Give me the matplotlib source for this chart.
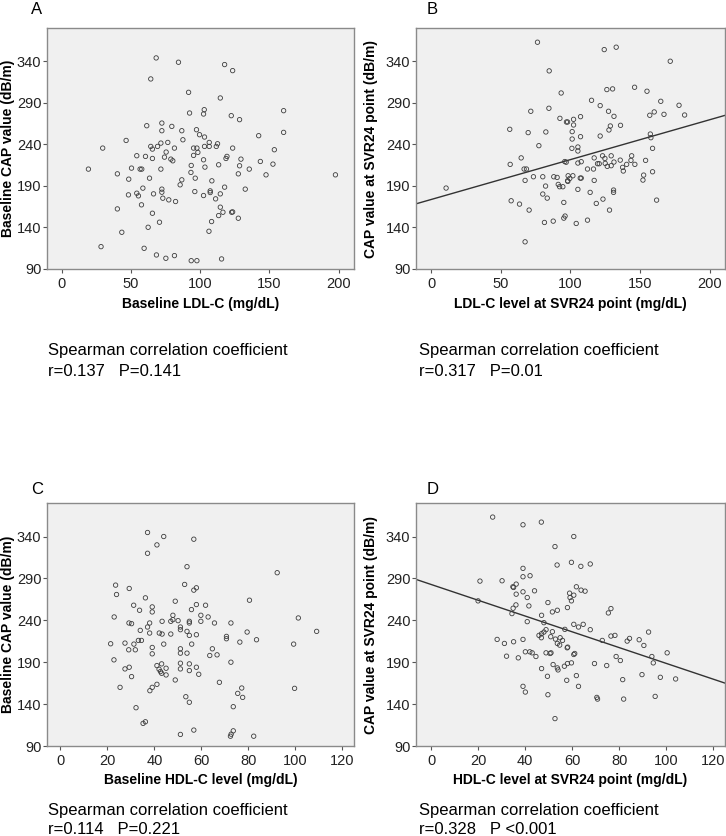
import numpy as np
import matplotlib.pyplot as plt

plt.rcParams['font.family'] = ['Liberation Sans', 'DejaVu Sans']

# (x, y) points, one list per panel
a_pts = [(68.2, 344), (84.3, 338.8), (64.3, 318.7), (117.6, 336), (123.4, 328.7), (91.6, 302.6),
         (114.5, 295.8), (102.9, 281.7), (102.4, 276.5), (92.3, 277.7), (122.4, 274.5), (128.4, 269.7),
         (160.2, 280.5), (160.2, 254.4), (142.2, 250.4), (72.3, 265.6), (61.4, 262.4), (79.5, 261.6),
         (72.3, 256.4), (86.7, 256.4), (97.3, 257.6), (99.5, 251.6), (103.1, 248.8), (46.5, 244.7),
         (87.5, 245.5), (76.6, 242.3), (71.6, 241.5), (106.5, 242.3), (112.5, 240.7), (29.6, 235.5),
         (64.3, 237.5), (69.2, 237.5), (65.5, 234.3), (81.4, 235.5), (95.2, 235.5), (97.6, 235.5),
         (103.1, 237.5), (106.5, 237.5), (111.6, 237.5), (123.4, 235.5), (153.5, 233.5), (75.4, 230.7),
         (98.3, 230.3), (54.2, 226.3), (60.5, 225.5), (95.2, 226.7), (74.2, 224.6), (65.5, 223),
         (78.8, 222.2), (80.2, 220.2), (102.4, 221.4), (119.3, 225.5), (118.6, 223), (129.4, 222.2),
         (143.4, 219.4), (50.4, 211.4), (56.6, 210.2), (57.8, 210.2), (19.3, 210.2), (71.6, 210.2),
         (93.5, 214.6), (103.4, 212.6), (113.3, 215.4), (128.4, 214.2), (135.4, 210.2), (152.5, 216.2),
         (40.2, 204.5), (93.3, 206.2), (127.5, 204.5), (147.5, 203.3), (197.6, 203.3), (63.4, 199.3),
         (48.4, 198.1), (86.7, 197.3), (96.4, 199.3), (108.4, 196.1), (85.5, 191.3), (58.6, 187.3),
         (72.3, 186.1), (117.6, 188.5), (132.5, 186.1), (72.3, 182.4), (96.1, 183.2), (107.2, 184),
         (107.2, 182), (54.2, 181.2), (66.3, 180.4), (114.5, 180.4), (48.2, 179.2), (55.4, 178),
         (102.4, 178.4), (73.0, 175.2), (77.3, 173.2), (82.2, 171.2), (111.1, 174.4), (57.6, 167.2),
         (114.5, 164.4), (40.2, 162.3), (116.4, 158.3), (65.5, 157.1), (122.7, 158.3), (123.4, 158.7),
         (113.3, 154.3), (127.5, 151.1), (108.2, 147.1), (70.6, 146.3), (62.4, 140.2), (106.3, 135.4),
         (43.4, 134.2), (28.4, 116.9), (59.5, 114.9), (68.4, 106.9), (81.4, 106.1), (75.2, 102.9),
         (93.5, 100), (97.6, 100), (115.4, 102.1)]

b_pts = [(76.4, 362.9), (124.3, 354), (132.9, 356.9), (171.7, 340), (84.8, 328.4), (93.4, 301.8),
         (126.2, 305.9), (130.3, 306.7), (146.1, 308.7), (155, 303.9), (115.2, 293), (121.4, 286.6),
         (164.9, 291.8), (178, 287), (71.6, 279.8), (84.6, 283.4), (127.4, 279.8), (131.3, 273.7),
         (107.3, 273.3), (160.2, 279), (157, 275), (167.2, 276.1), (182, 275.3), (92.5, 271.3),
         (102.3, 270.1), (97.2, 266.9), (98, 266.9), (102.3, 263.3), (136, 262.9), (128.7, 262.1),
         (127.7, 257.3), (56.5, 258.1), (82.4, 254.9), (69.7, 254.1), (101.3, 255.3), (157.4, 252.4),
         (121.4, 250), (157.8, 248), (107.3, 249.2), (101.3, 246.4), (77.4, 238.4), (101.1, 235.2),
         (105.4, 236.8), (105.4, 232), (159, 235.2), (64.7, 223.7), (117.1, 223.7), (123.1, 226.2),
         (124.8, 223), (129.3, 226.2), (144, 226.2), (135.8, 221), (96, 219.3), (97, 218.5),
         (143.5, 220.7), (154, 220.7), (56.8, 215.9), (105.4, 217.5), (107.8, 219.1), (119.5, 216.7),
         (120.7, 216.7), (125, 217.1), (126.5, 213.5), (129.3, 214.3), (131.3, 218.7), (140.4, 215.9),
         (146.3, 215.9), (137.5, 212.3), (138, 207.9), (66.8, 210.3), (68.5, 210.3), (73.5, 201),
         (80.2, 201), (67.5, 196.6), (88.1, 201), (90.5, 200.2), (98.4, 202.2), (101.8, 202.2),
         (99.6, 199), (98, 196.2), (98.2, 195.4), (107.1, 199.4), (107.8, 199.4), (112.3, 210.3),
         (116.6, 210.3), (117.1, 196.6), (152.6, 203), (152.1, 197), (159, 207), (10.8, 187.4),
         (82.2, 189.8), (91.3, 191.8), (92.3, 189), (94.6, 189), (105.4, 185.8), (114.2, 182.2),
         (131, 185), (131, 182.2), (80.2, 180.2), (83.4, 175.3), (57.5, 172.1), (123.4, 174.1),
         (161.9, 172.9), (95.3, 170.1), (63.5, 168.1), (118.6, 168.9), (70.4, 160.9), (128.1, 160.9),
         (81.4, 146), (87.7, 147.6), (95.3, 151.2), (96.2, 153.7), (104.2, 144.8), (112.3, 148.8),
         (67.5, 122.7)]

c_pts = [(37.1, 344.8), (44, 340), (41.1, 330), (37.1, 320), (56.8, 336.8), (53.9, 304),
         (52.9, 282.8), (57.9, 278.8), (56.8, 276), (92.3, 296.8), (23.5, 282), (23.9, 270.8),
         (29.3, 278), (36.2, 266.8), (48.9, 262.8), (80.5, 264), (31.2, 258), (39.1, 256),
         (39.1, 250), (33.7, 252), (55.8, 252.8), (57.9, 258.8), (61.8, 258), (22.9, 244),
         (47.9, 246), (59.8, 246), (62.9, 244), (101.3, 242.8), (29.2, 236.8), (30.3, 236),
         (38, 236.8), (43.3, 238.8), (47, 238.8), (50.1, 239.6), (54.9, 238.8), (54.9, 236.8),
         (59.8, 238.8), (65.6, 236.8), (72.6, 236.8), (47.9, 240.8), (34, 228), (37.1, 232),
         (51.1, 232), (51.1, 228.8), (38, 224.8), (42.1, 224.8), (43.3, 223.6), (47, 223.6),
         (53.9, 226.8), (54.9, 222), (57.9, 222.8), (79.5, 226), (70.7, 220.8), (70.7, 218),
         (76.4, 214), (83.5, 216.8), (109.1, 226.8), (21.4, 212), (27.5, 212.8), (31.3, 211.6),
         (33.2, 216), (34.5, 216), (44, 211.6), (55.9, 211.6), (99.3, 211.6), (29.1, 204.8),
         (31.9, 204.8), (39.1, 207.6), (39.1, 200), (51.1, 206), (51.1, 200.8), (53.9, 200.8),
         (64.7, 206), (63.6, 198), (66.7, 198.8), (22.8, 192.8), (72.6, 190), (27.5, 182),
         (29.3, 184), (30.3, 172.8), (41.1, 186), (43.1, 188), (42, 181.6), (42.6, 178.8),
         (43.1, 176.8), (45, 182.8), (45, 174.8), (51.1, 188.8), (51.1, 182), (54.9, 188),
         (54.9, 180), (57.9, 184), (58.9, 175.6), (48.9, 168.8), (67.7, 166), (25.4, 160),
         (38.1, 156), (39.1, 160), (41.1, 163.6), (53.4, 148.8), (77.2, 159.2), (75.5, 152.8),
         (77.6, 148), (99.7, 158.8), (32.2, 135.7), (35.2, 117), (36.2, 118.9), (51.1, 103.8),
         (56.8, 109), (72.4, 101.7), (72.7, 104.1), (73.6, 108.1), (82.3, 101.7), (73.6, 136.9),
         (54.9, 142.2)]

d_pts = [(26.2, 363.2), (39.1, 354), (46.9, 357.2), (60.7, 340), (52.7, 328), (53.6, 306),
         (59.7, 309.2), (63.7, 304.4), (67.7, 307.2), (39.1, 302), (39.1, 292), (42.1, 293.2),
         (20.8, 286.8), (30.2, 287.2), (34.8, 280), (35.1, 279.2), (36.2, 283.2), (61.8, 280),
         (63.8, 276), (65.5, 274.8), (44.0, 275.2), (39.1, 274), (36.2, 271.2), (40.9, 267.2),
         (58.9, 272.4), (59.1, 267.2), (60.7, 270), (59.7, 263.2), (20, 263.2), (49.7, 261.2),
         (36.1, 258.4), (41.6, 257.2), (34.9, 254.4), (58, 255.2), (76.5, 254), (75.4, 248.8),
         (51.6, 250), (53.7, 252), (34.4, 248), (47, 246), (40.9, 238.4), (48, 237.2),
         (60.7, 235.2), (62.7, 232), (64.7, 235.2), (67.7, 228.8), (56.9, 229.2), (48.9, 228.8),
         (48, 226), (51.6, 226.4), (92.5, 226), (45.9, 222), (47, 224), (54.9, 219.2),
         (50.9, 220.4), (52.9, 217.6), (55.9, 216), (46.9, 219.2), (76.5, 221.2), (78.2, 222),
         (72.8, 216), (84.4, 218.4), (83.4, 215.2), (88.5, 216.8), (90.5, 210), (28.1, 217.2),
         (31.2, 212.4), (35.1, 214.4), (39.1, 217.2), (54.7, 210.4), (53.7, 212.4), (57.9, 207.2),
         (58.1, 208), (40.1, 202.4), (42, 202.4), (43, 201.2), (44.6, 196.8), (48.9, 201.2),
         (50.6, 200.4), (51, 201.2), (60.7, 199.2), (61.1, 200.4), (100.4, 201.2), (93.9, 196.8),
         (32.1, 197.2), (37.1, 195.2), (78.7, 196.8), (80.5, 192), (94.5, 189.2), (69.5, 188.4),
         (74.7, 186), (51.9, 187.2), (58, 188.4), (59.7, 189.2), (56.7, 185.2), (53.7, 183.2),
         (54, 180.8), (47, 182.4), (49.5, 173.2), (61.8, 174), (57.7, 168.4), (81.5, 169.2),
         (89.7, 175.2), (97.5, 172), (104, 170), (62.7, 161.2), (39.1, 161.2), (40.1, 154.4),
         (49.7, 151.2), (70.5, 148), (70.8, 146), (81.9, 146), (95.3, 149.2), (52.7, 122.7)]

# fitted lines: (intercept, slope)
b_fit = (173.6, 0.48)
d_fit = (282.8, -0.942)

ldl_ticks = [0, 50, 100, 150, 200]
hdl_ticks = [0, 20, 40, 60, 80, 100, 120]
cap_ticks = [90, 140, 190, 240, 290, 340]

W, H = 726, 836
fig = plt.figure(figsize=(W / 100, H / 100), dpi=100)


def px_rect(l, r, t, b):
    return [l / W, 1 - b / H, (r - l) / W, (b - t) / H]


panels = [
    dict(letter='A', pts=a_pts, fit=None, box=(47, 354, 28, 269), xlim=(-10.6, 211), xt=ldl_ticks,
         xlabel='Baseline LDL-C (mg/dL)', ylabel='Baseline CAP value (dB/m)',
         stat='r=0.137   P=0.141', lx=37, ly=10, ylx=8, xly=304, sx=48, sy=(351, 372)),
    dict(letter='B', pts=b_pts, fit=b_fit, box=(416, 725, 28, 269), xlim=(-10.8, 211), xt=ldl_ticks,
         xlabel='LDL-C level at SVR24 point (mg/dL)', ylabel='CAP value at SVR24 point (dB/m)',
         stat='r=0.317   P=0.01', lx=432, ly=10, ylx=371, xly=304, sx=419, sy=(351, 372)),
    dict(letter='C', pts=c_pts, fit=None, box=(47, 354, 503, 746), xlim=(-5.7, 125), xt=hdl_ticks,
         xlabel='Baseline HDL-C level (mg/dL)', ylabel='Baseline CAP value (dB/m)',
         stat='r=0.114   P=0.221', lx=37, ly=489, ylx=8, xly=780, sx=48, sy=(811, 829)),
    dict(letter='D', pts=d_pts, fit=d_fit, box=(416, 725, 503, 746), xlim=(-6.4, 125), xt=hdl_ticks,
         xlabel='HDL-C level at SVR24 point (mg/dL)', ylabel='CAP value at SVR24 point (dB/m)',
         stat='r=0.328   P <0.001', lx=433, ly=489, ylx=371, xly=780, sx=419, sy=(811, 829)),
]

for p in panels:
    l, r, t, b = p['box']
    ax = fig.add_axes(px_rect(l, r, t, b))
    ax.set_facecolor('#f0f0f0')
    xs = [q[0] for q in p['pts']]
    ys = [q[1] for q in p['pts']]
    ax.scatter(xs, ys, s=10, facecolors='none', edgecolors='#3c3c3c', linewidths=0.6, zorder=3)
    if p['fit'] is not None:
        xx = np.array(p['xlim'])
        ax.plot(xx, p['fit'][0] + p['fit'][1] * xx, color='#333333', lw=1.0, zorder=2)
    ax.set_xlim(p['xlim'])
    ax.set_ylim(90, 380)
    ax.set_xticks(p['xt'])
    ax.set_yticks(cap_ticks)
    for s in ax.spines.values():
        s.set_color('#8a8a8a')
        s.set_linewidth(1.0)
    ax.tick_params(axis='both', direction='out', length=3, width=0.8, color='#555555',
                   labelsize=10.5, labelcolor='#222222')
    ax.tick_params(axis='y', pad=1)
    ax.tick_params(axis='x', pad=3)

    fig.text(p['lx'] / W, 1 - p['ly'] / H, p['letter'], fontsize=12, ha='center', va='center')
    fig.text((l + r) / 2 / W, 1 - p['xly'] / H, p['xlabel'], fontsize=10, fontweight='bold',
             ha='center', va='center')
    fig.text(p['ylx'] / W, 1 - (t + b) / 2 / H, p['ylabel'], fontsize=10, fontweight='bold',
             rotation=90, ha='center', va='center')
    fig.text(p['sx'] / W, 1 - p['sy'][0] / H, 'Spearman correlation coefficient', fontsize=12,
             ha='left', va='center')
    fig.text(p['sx'] / W, 1 - p['sy'][1] / H, p['stat'], fontsize=12, ha='left', va='center')

fig.savefig('out.png', dpi=100)
